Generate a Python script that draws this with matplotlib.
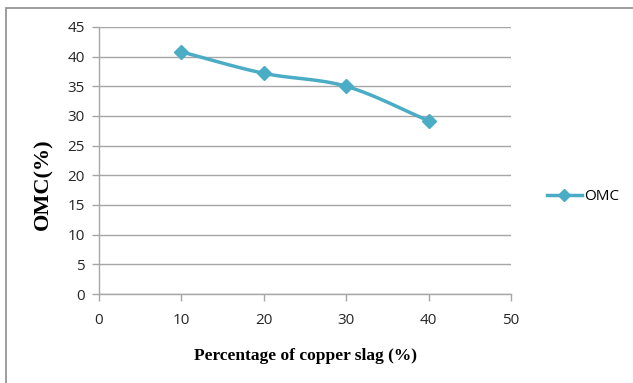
import numpy as np
import matplotlib
matplotlib.use("Agg")
import matplotlib.pyplot as plt
from matplotlib.lines import Line2D
from matplotlib.patches import Rectangle

# Optimum moisture content vs copper slag replacement
slag_pct = [10, 20, 30, 40]
omc = [40.8, 37.2, 35.0, 29.2]
x_ticks = [0, 10, 20, 30, 40, 50]
y_ticks = [0, 5, 10, 15, 20, 25, 30, 35, 40, 45]

COLOR = "#4BACC6"


def smooth_curve(xs, ys, n=40):
    """Cardinal (Catmull-Rom) spline through the points, like a smoothed line."""
    xs = np.asarray(xs, float)
    ys = np.asarray(ys, float)
    px = np.concatenate([[2 * xs[0] - xs[1]], xs, [2 * xs[-1] - xs[-2]]])
    py = np.concatenate([[2 * ys[0] - ys[1]], ys, [2 * ys[-1] - ys[-2]]])
    out_x, out_y = [], []
    t = np.linspace(0, 1, n)
    for i in range(1, len(px) - 2):
        p0, p1, p2, p3 = [np.array([px[j], py[j]]) for j in range(i - 1, i + 3)]
        c1 = p1 + (p2 - p0) / 6.0
        c2 = p2 - (p3 - p1) / 6.0
        pts = ((1 - t) ** 3)[:, None] * p1 + (3 * (1 - t) ** 2 * t)[:, None] * c1 \
            + (3 * (1 - t) * t ** 2)[:, None] * c2 + (t ** 3)[:, None] * p2
        out_x.extend(pts[:, 0])
        out_y.extend(pts[:, 1])
    return np.array(out_x), np.array(out_y)


fig = plt.figure(figsize=(6.33, 3.83), dpi=100)
ax = fig.add_axes([99 / 633, 1 - 294 / 383, (511 - 99) / 633, (294 - 27) / 383])

sx, sy = smooth_curve(slag_pct, omc)
ax.plot(sx, sy, color=COLOR, lw=2.5, solid_capstyle="round", zorder=3)
ax.plot(slag_pct, omc, linestyle="none", marker="D", ms=7, color=COLOR, zorder=4)

ax.set_xlim(0, 50)
ax.set_ylim(0, 45)
ax.set_xticks(x_ticks)
ax.set_yticks(y_ticks)
ax.yaxis.grid(True, color="#A6A6A6", lw=1)
ax.set_axisbelow(True)
for s in ("top", "right"):
    ax.spines[s].set_visible(False)
for s in ("left", "bottom"):
    ax.spines[s].set_color("#A6A6A6")
    ax.spines[s].set_linewidth(1)
ax.tick_params(axis="both", colors="#A6A6A6", length=5, width=1, direction="out",
               labelcolor="#262626", labelsize=11)
ax.tick_params(axis="x", pad=9)
ax.tick_params(axis="y", pad=5)
for lab in ax.get_xticklabels() + ax.get_yticklabels():
    lab.set_fontfamily("Open Sans")

ax.set_xlabel("Percentage of copper slag (%)", fontfamily="Liberation Serif",
              fontweight="bold", fontsize=12.5)
ax.set_ylabel("OMC(%)", fontfamily="Liberation Serif", fontweight="bold",
              fontsize=16)
ax.xaxis.set_label_coords(305 / 633, 1 - 356 / 383, transform=fig.transFigure)
ax.xaxis.label.set_va("center")
ax.yaxis.set_label_coords(43.5 / 633, 1 - 184 / 383, transform=fig.transFigure)
ax.yaxis.label.set_va("center")

handle = Line2D([], [], color=COLOR, lw=2.5, marker="D", ms=6)
fig.legend([handle], ["OMC"], loc="center left", bbox_to_anchor=(533 / 633, 1 - 197 / 383),
           frameon=False, handlelength=2.3, handletextpad=0.15,
           prop={"family": "Open Sans", "size": 11})

# outer frame (left and top edges show; the rest runs past the canvas)
fig.patches.append(Rectangle((6 / 633, -0.1), 1.0, 1 - 8 / 383 + 0.1,
                             transform=fig.transFigure, fill=False,
                             edgecolor="#8C8C8C", lw=1.2))

fig.savefig("out.png", dpi=100)
